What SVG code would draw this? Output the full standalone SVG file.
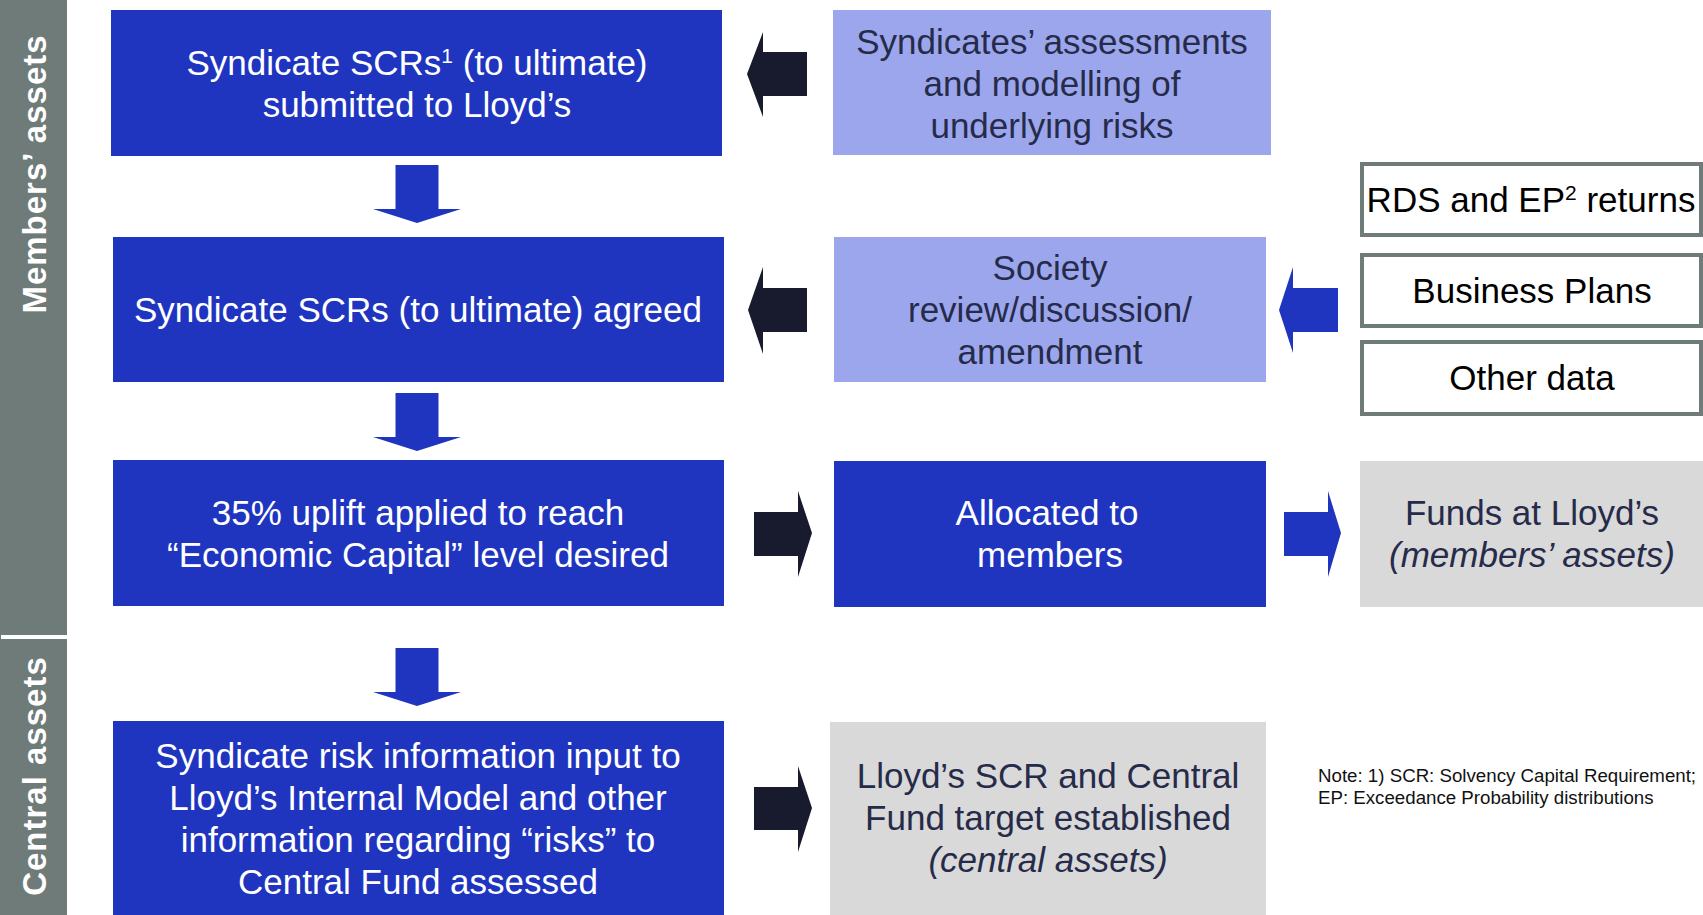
<svg xmlns="http://www.w3.org/2000/svg" width="1703" height="915" viewBox="0 0 1703 915">
<style>
text{font-family:"Liberation Sans",Arial,sans-serif;font-size:35px;text-anchor:middle}
.dk{fill:#2035bf}
.lb{fill:#9ba6ed}
.gr{fill:#d9d9d9}
.wt{fill:#ffffff}
.nv{fill:#262b4a}
.bk{fill:#000000}
.data{fill:#ffffff;stroke:#6f7b78;stroke-width:4}
.ab{fill:#181a2d}
.au{fill:#2035bf}
.side{font-weight:bold;font-size:33px;fill:#ffffff;letter-spacing:1px}
.note{font-size:18.7px;text-anchor:start;fill:#111111}
</style>
<rect width="1703" height="915" fill="#ffffff"/>
<g id="sidebar">
<rect x="0" y="0" width="67" height="915" fill="#6f7b78"/>
<rect x="1" y="635" width="66" height="4" fill="#ffffff"/>
<text class="side" transform="translate(46,174) rotate(-90)">Members’ assets</text>
<text class="side" transform="translate(46,776) rotate(-90)">Central assets</text>
</g>
<g id="n1">
<rect class="dk" x="111" y="10" width="611" height="146"/>
<text class="wt" x="417" y="75">Syndicate SCRs<tspan font-size="21" dy="-12">1</tspan><tspan dy="12"> (to ultimate)</tspan></text>
<text class="wt" x="417" y="117">submitted to Lloyd’s</text>
</g>
<g id="n2">
<rect class="dk" x="113" y="237" width="611" height="145"/>
<text class="wt" x="418" y="322">Syndicate SCRs (to ultimate) agreed</text>
</g>
<g id="n3">
<rect class="dk" x="113" y="460" width="611" height="146"/>
<text class="wt" x="418" y="525">35% uplift applied to reach</text>
<text class="wt" x="418" y="567">“Economic Capital” level desired</text>
</g>
<g id="n4">
<rect class="dk" x="113" y="721" width="611" height="194"/>
<text class="wt" x="418" y="768">Syndicate risk information input to</text>
<text class="wt" x="418" y="810">Lloyd’s Internal Model and other</text>
<text class="wt" x="418" y="852">information regarding “risks” to</text>
<text class="wt" x="418" y="894">Central Fund assessed</text>
</g>
<g id="n5">
<rect class="lb" x="833" y="10" width="438" height="145"/>
<text class="nv" x="1052" y="54">Syndicates’ assessments</text>
<text class="nv" x="1052" y="96">and modelling of</text>
<text class="nv" x="1052" y="138">underlying risks</text>
</g>
<g id="n6">
<rect class="lb" x="834" y="237" width="432" height="145"/>
<text class="nv" x="1050" y="280">Society</text>
<text class="nv" x="1050" y="322">review/discussion/</text>
<text class="nv" x="1050" y="364">amendment</text>
</g>
<g id="n7">
<rect class="dk" x="834" y="461" width="432" height="146"/>
<text class="wt" x="1047" y="525">Allocated to</text>
<text class="wt" x="1050" y="567">members</text>
</g>
<g id="n8">
<rect class="gr" x="830" y="722" width="436" height="193"/>
<text class="nv" x="1048" y="788">Lloyd’s SCR and Central</text>
<text class="nv" x="1048" y="830">Fund target established</text>
<text class="nv" x="1048" y="872" font-style="italic">(central assets)</text>
</g>
<g id="n9">
<rect class="data" x="1362" y="164" width="339" height="71"/>
<text class="bk" x="1531" y="212">RDS and EP<tspan font-size="21" dy="-12">2</tspan><tspan dy="12"> returns</tspan></text>
</g>
<g id="n10">
<rect class="data" x="1362" y="255" width="339" height="71"/>
<text class="bk" x="1532" y="303">Business Plans</text>
</g>
<g id="n11">
<rect class="data" x="1362" y="342" width="339" height="72"/>
<text class="bk" x="1532" y="390">Other data</text>
</g>
<g id="n12">
<rect class="gr" x="1360" y="461" width="343" height="146"/>
<text class="nv" x="1532" y="525">Funds at Lloyd’s</text>
<text class="nv" x="1532" y="567" font-style="italic">(members’ assets)</text>
</g>
<g id="note">
<text class="note" x="1318" y="782">Note: 1) SCR: Solvency Capital Requirement;</text>
<text class="note" x="1318" y="804">EP: Exceedance Probability distributions</text>
</g>
<g id="connectors">
<polygon class="au" points="395.5,165 438.5,165 438.5,209 461,209 417,223 373,209 395.5,209"/>
<polygon class="au" points="395.5,393 438.5,393 438.5,437 461,437 417,451 373,437 395.5,437"/>
<polygon class="au" points="395.5,648 438.5,648 438.5,692 461,692 417,706 373,692 395.5,692"/>
<polygon class="ab" points="747,74 763,32 763,52 807,52 807,96 763,96 763,117"/>
<polygon class="ab" points="748,310 763,267 763,288 807,288 807,332 763,332 763,354"/>
<polygon class="au" points="1279,310 1293,267 1293,288 1338,288 1338,332 1293,332 1293,353"/>
<polygon class="ab" points="754,512 798,512 798,491 812,533 798,577 798,556 754,556"/>
<polygon class="au" points="1284,512 1328,512 1328,491 1341,533 1328,577 1328,556 1284,556"/>
<polygon class="ab" points="754,787 798,787 798,766 812,808 798,852 798,830 754,830"/>
</g>
</svg>
